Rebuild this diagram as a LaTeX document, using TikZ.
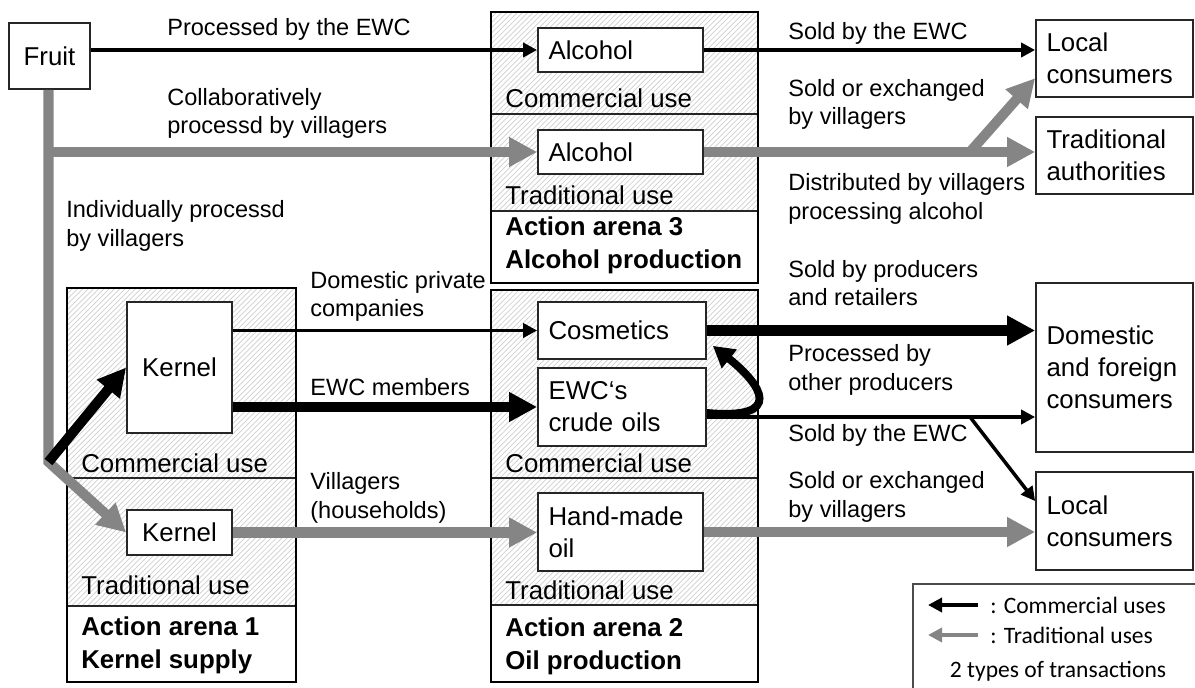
\documentclass[tikz,border=0pt]{standalone}
\usepackage{fontspec}
\setmainfont{Liberation Sans}
\newfontfamily\legendfont{Carlito}
\usetikzlibrary{arrows.meta, positioning, patterns, calc}
\definecolor{cgrey}{HTML}{858585}
\definecolor{chatch}{HTML}{CFCFCF}
\newcommand\boxfont{\fontsize{14.7}{18.3}\selectfont}
\newcommand\edgefont{\fontsize{13.4}{16.2}\selectfont}
\hyphenpenalty=10000
\tikzset{
  item/.style={draw=black!85, fill=white, line width=1pt, inner xsep=0.21cm, inner ysep=0pt, align=left, font=\boxfont},
  sect/.style={anchor=west, inner sep=0pt, font=\boxfont},
  arenatitle/.style={anchor=west, inner sep=0pt, align=left, font=\fontsize{14.7}{18.7}\selectfont\bfseries},
  flow/.style={anchor=west, inner sep=0pt, align=left, font=\edgefont},
  hatch/.style={pattern=north east lines, pattern color=chatch},
  arena/.style={draw=black, line width=1.6pt},
  comm/.style={-{Triangle[length=8pt, width=8pt]}, line width=2pt, draw=black},
  commthick/.style={-{Triangle[length=16pt, width=16pt]}, line width=5.7pt, draw=black},
  commbend/.style={-{Triangle[length=12pt, width=13pt]}, line width=4.5pt, draw=black},
  trad/.style={-{Triangle[length=16pt, width=16pt]}, line width=5.7pt, draw=cgrey},
  legarrow/.style={-{Triangle[length=8pt, width=8pt]}, line width=2.2pt},
}

\begin{document}
\begin{tikzpicture}[x=0.02cm, y=-0.02cm]
  \useasboundingbox (0,0) rectangle (1195,688);

  % arenas
  \fill[hatch] (491,12) rectangle (758,211);
  \draw[line width=1pt, black!85] (491,114) -- (758,114) (491,211) -- (758,211);
  \draw[arena] (491,12) rectangle (758,283);
  \fill[hatch] (67,288) rectangle (296,606);
  \draw[line width=1pt, black!85] (67,478) -- (296,478) (67,606) -- (296,606);
  \draw[arena] (67,288) rectangle (296,682);
  \fill[hatch] (491,290) rectangle (758,605);
  \draw[line width=1pt, black!85] (491,478) -- (758,478) (491,605) -- (758,605);
  \draw[arena] (491,290) rectangle (758,682);

  \node[sect] at (505,98) {Commercial use};
  \node[sect] at (505,195) {Traditional use};
  \node[arenatitle] at (505,245.5) {Action arena 3\\Alcohol production};
  \node[sect] at (81,463) {Commercial use};
  \node[sect] at (81,585) {Traditional use};
  \node[arenatitle] at (81,645) {Action arena 1\\Kernel supply};
  \node[sect] at (505,463) {Commercial use};
  \node[sect] at (505,590) {Traditional use};
  \node[arenatitle] at (505,646.5) {Action arena 2\\Oil production};

  % goods and actors
  \node[item, align=center, text width=1.2cm, minimum height=1.32cm] (fruit) at (49.5,56) {Fruit};
  \node[item, text width=2.88cm, minimum height=0.88cm] (alcC) at (620.5,50) {Alcohol};
  \node[item, text width=2.88cm, minimum height=0.88cm] (alcT) at (620.5,152) {Alcohol};
  \node[item, align=center, text width=1.68cm, minimum height=2.62cm] (kerC) at (179.5,367.5) {Kernel};
  \node[item, align=center, text width=1.68cm, minimum height=0.9cm] (kerT) at (179.5,532.5) {Kernel};
  \node[item, text width=2.94cm, minimum height=1.14cm] (cosm) at (622,330.5) {Cosmetics};
  \node[item, text width=2.94cm, minimum height=1.56cm] (crude) at (622,407) {EWC‘s\\crude oils};
  \node[item, text width=2.88cm, minimum height=1.56cm] (hand) at (620.5,532) {Hand-made\\oil};
  \node[item, text width=2.72cm, minimum height=1.54cm] (localA) at (1114.5,58.5) {Local\\consumers};
  \node[item, text width=2.72cm, minimum height=1.54cm] (auth) at (1114.5,155.5) {Traditional\\authorities};
  \node[item, text width=2.72cm, minimum height=3.38cm] (dom) at (1114.5,367.5) {Domestic\\and foreign\\consumers};
  \node[item, text width=2.72cm, minimum height=1.96cm] (localB) at (1114.5,521) {Local\\consumers};

  % flow labels
  \node[flow] at (167,29) {Processed by the EWC};
  \node[flow] at (167,113.5) {Collaboratively\\processd by villagers};
  \node[flow] at (66,226) {Individually processd\\by villagers};
  \node[flow] at (310,296.5) {Domestic private\\companies};
  \node[flow] at (310,387) {EWC members};
  \node[flow] at (310,498) {Villagers\\(households)};
  \node[flow] at (788,33) {Sold by the EWC};
  \node[flow] at (788,104.5) {Sold or exchanged\\by villagers};
  \node[flow] at (788,199) {Distributed by villagers\\processing alcohol};
  \node[flow] at (788,283) {Sold by producers\\and retailers};
  \node[flow] at (788,370) {Processed by\\other producers};
  \node[flow] at (788,435) {Sold by the EWC};
  \node[flow] at (788,497) {Sold or exchanged\\by villagers};

  % flows
  \coordinate (split) at (48.5,462);
  \coordinate (fork) at (970,152);
  \coordinate (branch) at (970,417);
  \draw[comm] (fruit.east |- alcC) -- (alcC.west);
  \draw[trad] (split |- fruit.south) -- (split) -- (kerT.west);
  \draw[trad] (split |- alcT) -- (alcT.west);
  \draw[commthick] (split) -- (kerC.west);
  \draw[comm] (kerC.east |- cosm) -- (cosm.west);
  \draw[commthick] (kerC.east |- crude) -- (crude.west);
  \draw[trad] (kerT.east) -- (kerT.east -| hand.west);
  \draw[comm] (alcC.east) -- (alcC.east -| localA.west);
  \draw[trad] (alcT.east) -- (alcT.east -| auth.west);
  \draw[trad] (fork) -- ($(localA.west)!0.5!(localA.south west)$);
  \draw[commthick] (cosm.east) -- (cosm.east -| dom.west);
  \draw[commbend] ($(crude.east)+(0,6)$) .. controls (785,420) and (762,385) .. ($(cosm.south east)+(6,-14)$);
  \draw[comm] ($(crude.east)+(0,10)$) -- (branch) -- (branch -| dom.west);
  \draw[comm] (branch) -- ($(localB.north west)!0.6!(localB.west)$);
  \draw[trad] (hand.east) -- (hand.east -| localB.west);

  % legend
  \draw[line width=1pt, black!70] (1200,584) -- (913,584) -- (913,692);
  \node[flow, font=\legendfont\fontsize{13.4}{16}\selectfont] (lgC) at (990,605) {: Commercial uses};
  \node[flow, font=\legendfont\fontsize{13.4}{16}\selectfont] (lgT) at (990,635) {: Traditional uses};
  \node[font=\legendfont\fontsize{13.4}{16}\selectfont, inner sep=0pt] (lgN) at (1058,671) {2 types of transactions};
  \draw[legarrow, black] ($(lgC.west)+(-12,0)$) -- ++(-50,0);
  \draw[legarrow, cgrey] ($(lgT.west)+(-12,0)$) -- ++(-50,0);
\end{tikzpicture}
\end{document}
